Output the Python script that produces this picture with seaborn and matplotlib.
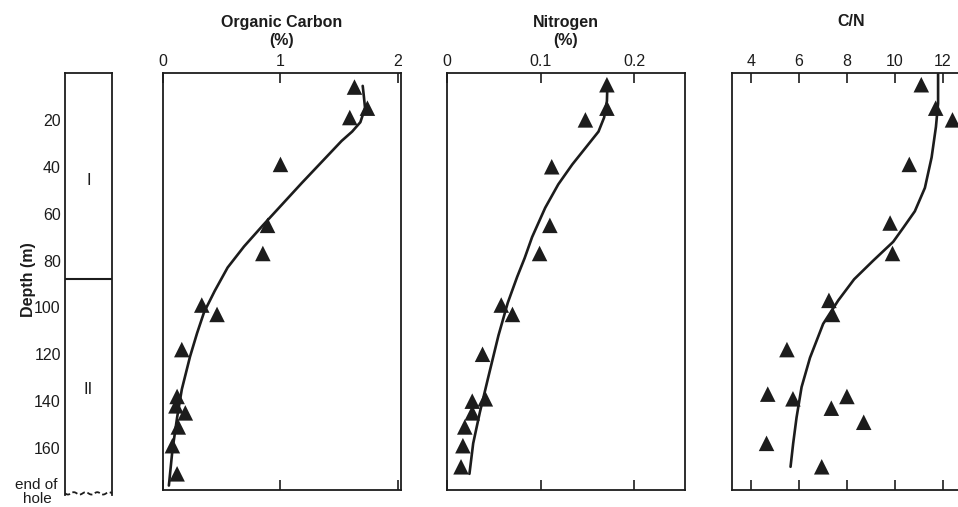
import numpy as np
import matplotlib
matplotlib.use("Agg")
import matplotlib.pyplot as plt
import seaborn as sns

# --- measured samples (depth in m) ---
depth_pts = [6, 15, 19, 39, 65, 77, 99, 103, 118, 138, 142, 145, 151, 159, 171]
corg_pts = [1.63, 1.74, 1.59, 1.00, 0.89, 0.85, 0.33, 0.46, 0.16, 0.12, 0.11, 0.19, 0.13, 0.08, 0.12]

depth_n_pts = [5, 15, 20, 40, 65, 77, 99, 103, 120, 139, 140, 145, 151, 159, 168]
nitro_pts = [0.171, 0.171, 0.148, 0.112, 0.110, 0.099, 0.058, 0.070, 0.038, 0.041, 0.027, 0.027, 0.019, 0.017, 0.015]

depth_cn_pts = [5, 15, 20, 39, 64, 77, 97, 103, 118, 137, 138, 139, 143, 149, 158, 168]
cn_pts = [11.1, 11.7, 12.4, 10.6, 9.8, 9.9, 7.25, 7.4, 5.5, 4.7, 8.0, 5.75, 7.35, 8.7, 4.65, 6.95]

# --- hand drawn trend curves ---
corg_curve_d = [5.5, 10, 15, 21, 25, 29, 47, 65, 74, 83, 93, 102, 111, 121, 135, 147, 161, 176]
corg_curve_v = [1.70, 1.71, 1.72, 1.68, 1.61, 1.52, 1.18, 0.85, 0.69, 0.55, 0.44, 0.35, 0.29, 0.23, 0.16, 0.12, 0.08, 0.05]

nitro_curve_d = [5.5, 12, 19, 25, 32, 39, 47.5, 57.5, 70, 79, 87, 98, 112, 130, 145, 158, 171]
nitro_curve_v = [0.1715, 0.171, 0.168, 0.162, 0.148, 0.134, 0.119, 0.105, 0.091, 0.083, 0.075, 0.065,
                 0.055, 0.044, 0.035, 0.028, 0.024]

cn_curve_d = [0.5, 13, 23, 36, 49, 59, 66, 72, 80, 88, 97, 107, 121.5, 134, 147, 158, 168]
cn_curve_v = [11.8, 11.8, 11.71, 11.53, 11.25, 10.83, 10.35, 9.93, 9.1, 8.3, 7.64, 7.01, 6.46, 6.11,
              5.90, 5.76, 5.65]

depth_ticks = [20, 40, 60, 80, 100, 120, 140, 160]
corg_ticks = [0, 1, 2]
corg_labels = ["0", "1", "2"]
nitro_ticks = [0, 0.1, 0.2]
nitro_labels = ["0", "0.1", "0.2"]
cn_ticks = [4, 6, 8, 10, 12]
cn_labels = ["4", "6", "8", "10", "12"]

unit_boundary = 88

sns.set_style("white")
plt.rcParams["font.family"] = ["Liberation Sans", "DejaVu Sans"]

W, H = 958, 507
fig = plt.figure(figsize=(W / 100, H / 100), dpi=100)


def px_axes(x0, x1, y0, y1):
    return fig.add_axes([x0 / W, 1 - y1 / H, (x1 - x0) / W, (y1 - y0) / H])


ink = "#1c1c1c"

# lithologic column
ax0 = px_axes(65, 112, 73, 495)
ax0.set_xlim(0, 1)
ax0.set_ylim(180, 0)
ax0.set_xticks([])
ax0.set_yticks(depth_ticks)
ax0.tick_params(axis="y", direction="in", length=9, width=1.2, labelsize=11.5, pad=3, colors=ink)
for s in ax0.spines.values():
    s.set_linewidth(1.3)
    s.set_color(ink)
ax0.spines["bottom"].set_visible(False)
ax0.axhline(unit_boundary, color=ink, lw=1.5)
xw = np.linspace(0, 1, 80)
ax0.plot(xw, 179.3 + 0.5 * np.sin(xw * 2 * np.pi * 4), color=ink, lw=1.3, ls=(0, (3, 1.5)), clip_on=False)
ax0.text(0.5, 46, "I", ha="center", va="center", fontsize=12, color=ink)
ax0.text(0.5, 135, "II", ha="center", va="center", fontsize=12, color=ink)
fig.text(28 / W, 1 - 280 / H, "Depth (m)", rotation=90, ha="center", va="center",
         fontsize=11.5, fontweight="bold", color=ink)
fig.text(36 / W, 1 - 478 / H, "end of", ha="center", va="top", fontsize=11, color=ink)
fig.text(37 / W, 1 - 492 / H, "hole", ha="center", va="top", fontsize=11, color=ink)

panels = [
    ((163, 401), (0, 2.026), corg_ticks, corg_labels, depth_pts, corg_pts, corg_curve_d, corg_curve_v,
     ["Organic Carbon", "(%)"]),
    ((447, 685), (0, 0.2545), nitro_ticks, nitro_labels, depth_n_pts, nitro_pts, nitro_curve_d, nitro_curve_v,
     ["Nitrogen", "(%)"]),
    ((732, 970), (3.21, 13.13), cn_ticks, cn_labels, depth_cn_pts, cn_pts, cn_curve_d, cn_curve_v,
     ["C/N"]),
]

for (x0, x1), xlim, ticks, labels, dpts, vpts, dcur, vcur, title in panels:
    ax = px_axes(x0, x1, 73, 490)
    sns.lineplot(x=vcur, y=dcur, sort=False, estimator=None, color=ink, lw=1.9, ax=ax)
    sns.scatterplot(x=vpts, y=dpts, marker="^", s=125, color=ink, edgecolor="none", ax=ax, zorder=3)
    ax.set_xticks(ticks)
    ax.set_xticklabels(labels)
    ax.set_xlim(*xlim)
    ax.set_ylim(177.9, 0)
    ax.set_yticks([])
    ax.xaxis.set_ticks_position("both")
    ax.tick_params(axis="x", direction="in", length=7, width=1.2, labeltop=True, labelbottom=False,
                   labelsize=11.5, pad=3, colors=ink)
    ax.set_xlabel("")
    ax.set_ylabel("")
    for s in ax.spines.values():
        s.set_linewidth(1.3)
        s.set_color(ink)
    xc = (x0 + x1) / 2 / W
    fig.text(xc, 1 - 22 / H, title[0], ha="center", va="center", fontsize=11.5, fontweight="bold", color=ink)
    if len(title) > 1:
        fig.text(xc, 1 - 40 / H, title[1], ha="center", va="center", fontsize=11.5, fontweight="bold", color=ink)

fig.savefig("out.png", dpi=100)
